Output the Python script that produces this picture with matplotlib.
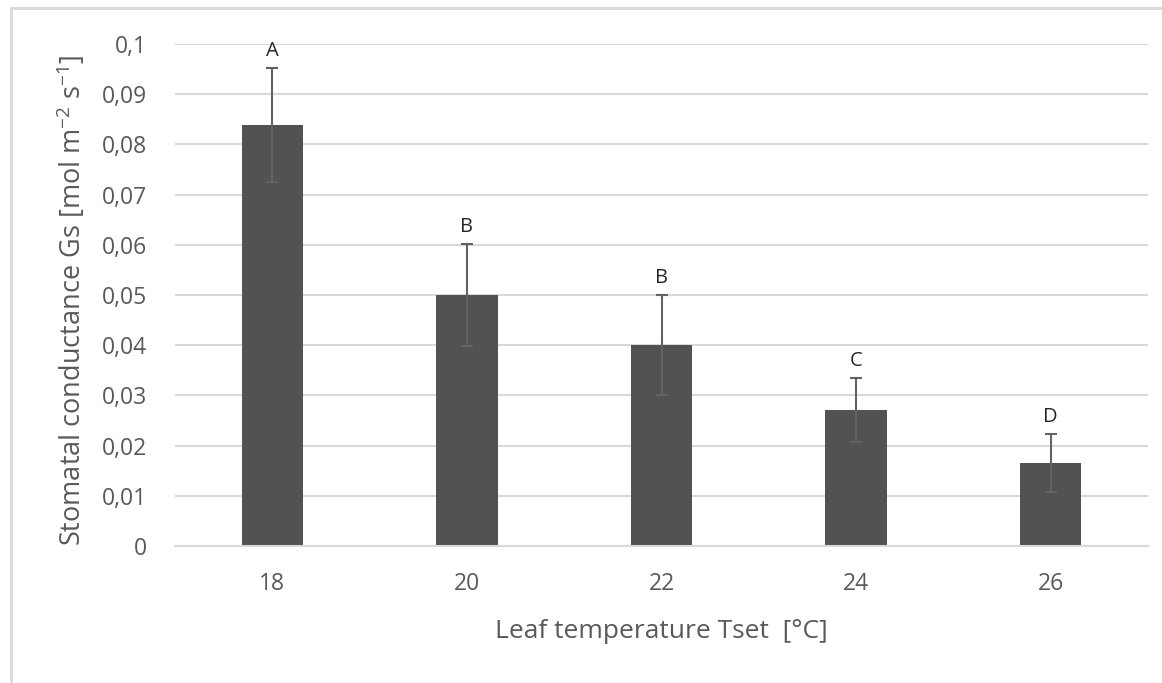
import matplotlib
matplotlib.use('Agg')
import matplotlib.pyplot as plt
from matplotlib.patches import Rectangle
from matplotlib.ticker import FuncFormatter, MultipleLocator

# data
temps = ['18', '20', '22', '24', '26']
gs_mean = [0.0839, 0.0500, 0.0400, 0.0271, 0.0166]
gs_err = [0.0114, 0.0102, 0.0100, 0.0063, 0.0058]
groups = ['A', 'B', 'B', 'C', 'D']

plt.rcParams['font.family'] = ['Open Sans', 'DejaVu Sans']
plt.rcParams['mathtext.fontset'] = 'custom'
plt.rcParams['mathtext.rm'] = 'Open Sans'
plt.rcParams['mathtext.it'] = 'Open Sans'

grey_text = '#595959'
grid_col = '#d9d9d9'

fig = plt.figure(figsize=(11.62, 6.83), dpi=100)
ax = fig.add_axes([175 / 1162, 1 - 546 / 683, (1148 - 175) / 1162, (546 - 44) / 683])

x = range(len(temps))
ax.bar(x, gs_mean, width=0.315, color='#525252', zorder=2)
ax.errorbar(x, gs_mean, yerr=gs_err, fmt='none', ecolor='#636363',
            elinewidth=1.5, capsize=4.5, capthick=1.5, zorder=3)

for xi, m, e, g in zip(x, gs_mean, gs_err, groups):
    ax.annotate(g, (xi, m + e), xytext=(0, 5), textcoords='offset points',
                ha='center', va='bottom', fontsize=14.5, color='#262626')

ax.set_xlim(-0.5, len(temps) - 0.5)
ax.set_ylim(0, 0.1)
ax.yaxis.set_major_locator(MultipleLocator(0.01))


def comma_fmt(v, pos):
    s = f"{v:.2f}".rstrip('0').rstrip('.')
    return s.replace('.', ',')


ax.yaxis.set_major_formatter(FuncFormatter(comma_fmt))
ax.set_xticks(list(x))
ax.set_xticklabels(temps)

ax.grid(axis='y', color=grid_col, linewidth=1.5, zorder=0)
ax.set_axisbelow(True)
for side in ['top', 'right', 'left']:
    ax.spines[side].set_visible(False)
ax.spines['bottom'].set_color(grid_col)
ax.spines['bottom'].set_linewidth(1.5)

ax.tick_params(axis='both', length=0, labelsize=16.5, labelcolor=grey_text)
ax.tick_params(axis='y', pad=20)
ax.tick_params(axis='x', pad=19)

ax.set_xlabel('Leaf temperature Tset  [°C]', fontsize=19, color=grey_text)
ax.xaxis.set_label_coords(0.5, (546 - 631) / 502)
ax.xaxis.label.set_va('center')
ax.set_ylabel(r'Stomatal conductance Gs [mol m$^{-2}$ s$^{-1}$]', fontsize=19.5, color=grey_text)
ax.yaxis.set_label_coords((72 - 175) / 973, 0.49)
ax.yaxis.label.set_va('center')

# chart frame, cut by the right and bottom edges of the picture
fig.add_artist(Rectangle((11 / 1162, -0.1), 1.0, 1.1 - 8 / 683, transform=fig.transFigure,
                         fill=False, edgecolor=grid_col, linewidth=2, clip_on=False))

fig.savefig('out.png', dpi=100, facecolor='white')
